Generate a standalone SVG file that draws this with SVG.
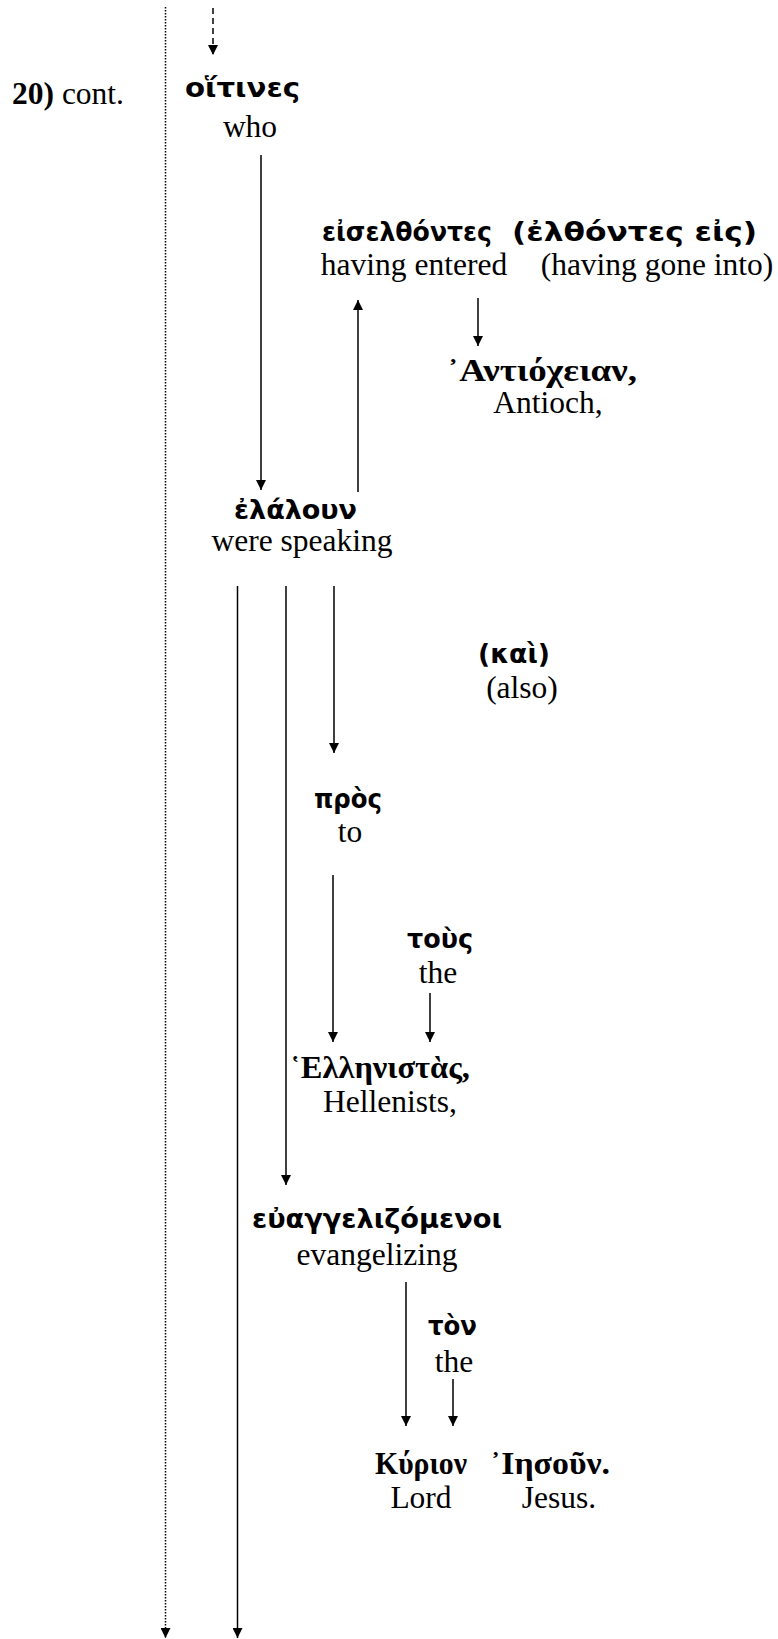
<svg xmlns="http://www.w3.org/2000/svg" width="778" height="1639" viewBox="0 0 778 1639">
<style>
.en{font-family:'Liberation Serif','Times New Roman',serif;font-size:31.5px;fill:#000}
.gs{font-family:'DejaVu Sans','Noto Sans',sans-serif;font-weight:bold;font-size:27px;fill:#000}
.gr{font-family:'Liberation Serif','DejaVu Serif',serif;font-weight:bold;font-size:31.5px;fill:#000}
.ln{stroke:#000;stroke-width:1.5;fill:none}
.dash{stroke-dasharray:6 4}
.dot{stroke-dasharray:1.5 1.5}
</style>
<defs>
<marker id="ah" viewBox="0 0 10 10" refX="10" refY="5" markerWidth="10" markerHeight="10" markerUnits="userSpaceOnUse" orient="auto">
<path d="M0,0 L10,5 L0,10 z" fill="#000"/>
</marker>
</defs>
<g id="connectors">
<line class="ln dash" x1="213" y1="8" x2="213" y2="55" marker-end="url(#ah)"/>
<line class="ln dot" x1="165.5" y1="7" x2="165.5" y2="1638" marker-end="url(#ah)"/>
<line class="ln" x1="261" y1="155" x2="261" y2="490" marker-end="url(#ah)"/>
<line class="ln" x1="358" y1="492" x2="358" y2="300" marker-end="url(#ah)"/>
<line class="ln" x1="478" y1="298" x2="478" y2="346" marker-end="url(#ah)"/>
<line class="ln" x1="237.5" y1="586" x2="237.5" y2="1638" marker-end="url(#ah)"/>
<line class="ln" x1="286" y1="586" x2="286" y2="1185" marker-end="url(#ah)"/>
<line class="ln" x1="334" y1="586" x2="334" y2="753" marker-end="url(#ah)"/>
<line class="ln" x1="333" y1="875" x2="333" y2="1042" marker-end="url(#ah)"/>
<line class="ln" x1="430" y1="993" x2="430" y2="1042" marker-end="url(#ah)"/>
<line class="ln" x1="406" y1="1282" x2="406" y2="1426" marker-end="url(#ah)"/>
<line class="ln" x1="453" y1="1379" x2="453" y2="1426" marker-end="url(#ah)"/>
</g>
<g id="label-20">
<text x="12" y="104" class="en"><tspan font-weight="bold">20)</tspan> cont.</text>
</g>
<g id="node-oitines">
<text x="185" y="97" class="gs" textLength="115" lengthAdjust="spacingAndGlyphs">οἵτινες</text>
<text x="250" y="137" class="en" text-anchor="middle">who</text>
</g>
<g id="node-eiselthontes">
<text x="322" y="241" class="gs" textLength="170" lengthAdjust="spacingAndGlyphs">εἰσελθόντες</text>
<text x="414" y="275" class="en" text-anchor="middle">having entered</text>
</g>
<g id="node-elthontes-eis">
<text x="512" y="241" class="gs" textLength="245" lengthAdjust="spacingAndGlyphs">(ἐλθόντες εἰς)</text>
<text x="657" y="275" class="en" text-anchor="middle">(having gone into)</text>
</g>
<g id="node-antiocheian">
<text x="447" y="381" class="gr" textLength="190" lengthAdjust="spacingAndGlyphs">᾿Αντιόχειαν,</text>
<text x="548" y="413" class="en" text-anchor="middle">Antioch,</text>
</g>
<g id="node-elaloun">
<text x="234" y="519" class="gs" textLength="123" lengthAdjust="spacingAndGlyphs">ἐλάλουν</text>
<text x="302" y="551" class="en" text-anchor="middle">were speaking</text>
</g>
<g id="node-kai">
<text x="478" y="663" class="gs" textLength="72" lengthAdjust="spacingAndGlyphs">(καὶ)</text>
<text x="522" y="698" class="en" text-anchor="middle">(also)</text>
</g>
<g id="node-pros">
<text x="314" y="808" class="gs" textLength="68" lengthAdjust="spacingAndGlyphs">πρὸς</text>
<text x="350" y="842" class="en" text-anchor="middle">to</text>
</g>
<g id="node-tous">
<text x="407" y="948" class="gs" textLength="66" lengthAdjust="spacingAndGlyphs">τοὺς</text>
<text x="438" y="983" class="en" text-anchor="middle">the</text>
</g>
<g id="node-hellenistas">
<text x="290" y="1078" class="gr" textLength="180" lengthAdjust="spacingAndGlyphs">῾Ελληνιστὰς,</text>
<text x="390" y="1112" class="en" text-anchor="middle">Hellenists,</text>
</g>
<g id="node-euangelizomenoi">
<text x="252" y="1228" class="gs" textLength="250" lengthAdjust="spacingAndGlyphs">εὐαγγελιζόμενοι</text>
<text x="377" y="1265" class="en" text-anchor="middle">evangelizing</text>
</g>
<g id="node-ton">
<text x="428" y="1335" class="gs" textLength="49" lengthAdjust="spacingAndGlyphs">τὸν</text>
<text x="454" y="1372" class="en" text-anchor="middle">the</text>
</g>
<g id="node-kyrion">
<text x="375" y="1474" class="gr" textLength="92" lengthAdjust="spacingAndGlyphs">Κύριον</text>
<text x="421" y="1508" class="en" text-anchor="middle">Lord</text>
</g>
<g id="node-iesoun">
<text x="490" y="1474" class="gr" textLength="120" lengthAdjust="spacingAndGlyphs">᾿Ιησοῦν.</text>
<text x="559" y="1508" class="en" text-anchor="middle">Jesus.</text>
</g>
</svg>
